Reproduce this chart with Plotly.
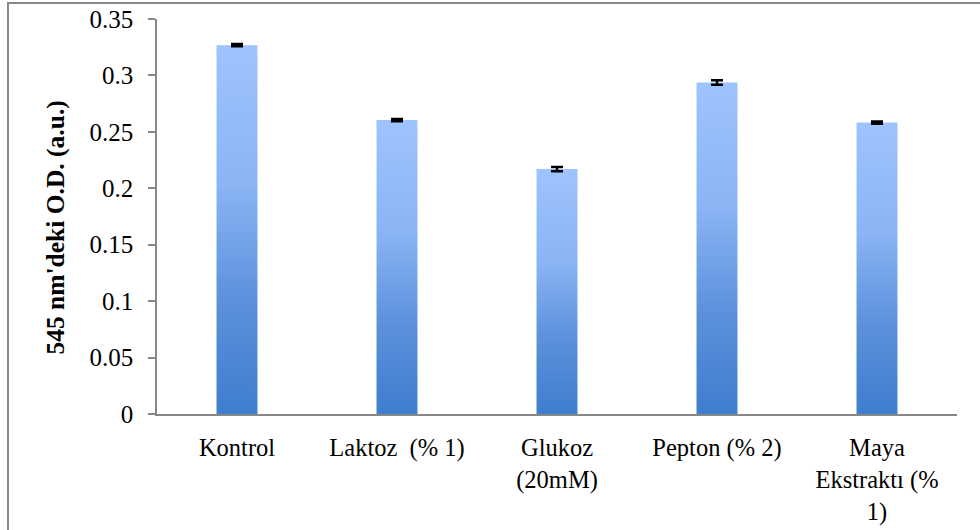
import plotly.graph_objects as go

categories = ["Kontrol", "Laktoz\u00a0 (% 1)", "Glukoz<br>(20mM)", "Pepton (% 2)", "Maya<br>Ekstraktı (%<br>1)"]
values = [0.3268, 0.2604, 0.2170, 0.2938, 0.2582]
errors = [0.0010, 0.0010, 0.0018, 0.0020, 0.0010]
y_ticks = [0, 0.05, 0.1, 0.15, 0.2, 0.25, 0.3, 0.35]

BAR_W = 0.256
grad = [[0.0, "#3E7ECE"], [0.3, "#5C90DB"], [0.62, "#8AB4F4"], [1.0, "#9EC4FF"]]
FONT = "Liberation Serif, Times New Roman, serif"

fig = go.Figure()

xs = list(range(len(categories)))
for i, v in zip(xs, values):
    fig.add_trace(go.Scatter(
        x=[i - BAR_W / 2, i + BAR_W / 2, i + BAR_W / 2, i - BAR_W / 2, i - BAR_W / 2],
        y=[0, 0, v, v, 0],
        mode="lines", line=dict(width=0), fill="toself",
        fillgradient=dict(type="vertical", colorscale=grad),
        hoverinfo="skip", showlegend=False,
    ))

fig.add_trace(go.Scatter(
    x=xs, y=values, mode="markers",
    marker=dict(size=1, color="rgba(0,0,0,0)"),
    error_y=dict(type="data", array=errors, visible=True, color="black", thickness=2.5, width=6),
    showlegend=False,
))

fig.update_layout(
    width=980, height=530,
    margin=dict(l=157, r=23, t=19, b=116, autoexpand=False),
    paper_bgcolor="white", plot_bgcolor="white",
    font=dict(family=FONT, color="black"),
    showlegend=False,
    xaxis=dict(
        range=[-0.5, 4.5], tickmode="array", tickvals=xs, ticktext=categories,
        showline=True, linecolor="#878787", linewidth=1.5,
        ticks="", showgrid=False, zeroline=False,
        tickfont=dict(size=24.5, family=FONT, color="black"),
        ticklabelstandoff=11, fixedrange=True, automargin=False,
    ),
    yaxis=dict(
        range=[0, 0.35], tickmode="array", tickvals=y_ticks,
        ticktext=[f"{t:g}" for t in y_ticks],
        showline=True, linecolor="#878787", linewidth=1.5,
        ticks="outside", ticklen=7, tickcolor="#878787", tickwidth=1.5,
        showgrid=False, zeroline=False,
        tickfont=dict(size=25, family=FONT, color="black"),
        ticklabelstandoff=10, fixedrange=True, automargin=False,
    ),
    annotations=[dict(
        text="<b>545 nm'deki O.D. (a.u.)</b>", textangle=-90,
        xref="paper", yref="paper", x=(56 - 157) / 800, y=0.472,
        xanchor="center", yanchor="middle", showarrow=False,
        font=dict(size=25.5, family=FONT, color="black"),
    )],
    shapes=[dict(
        type="rect", xref="paper", yref="paper",
        x0=(8 - 157) / 800, x1=1.06, y0=-0.4, y1=1 + 16 / 395,
        line=dict(color="#898989", width=2), fillcolor="rgba(0,0,0,0)", layer="below",
    )],
)

fig.write_html(
    "out.html",
    config={"displayModeBar": False},
    post_script="document.body.style.margin='0';document.body.style.overflow='hidden';",
)
